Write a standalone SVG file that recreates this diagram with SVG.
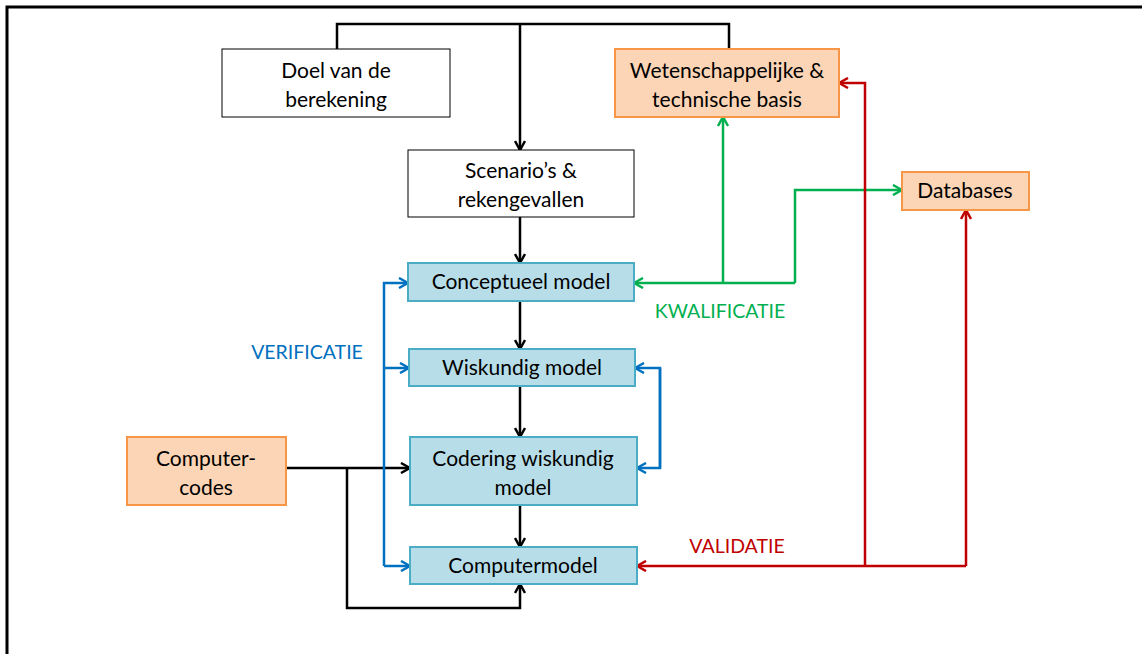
<svg xmlns="http://www.w3.org/2000/svg" width="1142" height="654" viewBox="0 0 1142 654">
<style>
.white{fill:#ffffff;stroke:#000000;stroke-width:1}
.orange{fill:#FBD5B5;stroke:#F79646;stroke-width:2}
.blue{fill:#B7DEE8;stroke:#4BACC6;stroke-width:2}
text{font-family:Lato,"Liberation Sans",sans-serif;font-size:21px;fill:#000;text-anchor:middle}
.lbl{font-size:19.5px}
.c{fill:none;stroke-width:2.5;stroke-linejoin:miter}
.k{stroke:#000}
.b{stroke:#0070C0}
.g{stroke:#00B050}
.r{stroke:#C00000}
</style>
<defs>
<marker id="ak" viewBox="0 0 12 12" refX="11" refY="6" markerWidth="12" markerHeight="12" markerUnits="userSpaceOnUse" orient="auto"><path d="M2,1 L11,6 L2,11" fill="none" stroke="#000" stroke-width="2.5"/></marker>
<marker id="ab" viewBox="0 0 12 12" refX="11" refY="6" markerWidth="12" markerHeight="12" markerUnits="userSpaceOnUse" orient="auto"><path d="M2,1 L11,6 L2,11" fill="none" stroke="#0070C0" stroke-width="2.5"/></marker>
<marker id="ag" viewBox="0 0 12 12" refX="11" refY="6" markerWidth="12" markerHeight="12" markerUnits="userSpaceOnUse" orient="auto"><path d="M2,1 L11,6 L2,11" fill="none" stroke="#00B050" stroke-width="2.5"/></marker>
<marker id="ar" viewBox="0 0 12 12" refX="11" refY="6" markerWidth="12" markerHeight="12" markerUnits="userSpaceOnUse" orient="auto"><path d="M2,1 L11,6 L2,11" fill="none" stroke="#C00000" stroke-width="2.5"/></marker>
</defs>
<rect width="1142" height="654" fill="#ffffff"/>
<path d="M7,654 V7 H1142" fill="none" stroke="#000" stroke-width="3"/>

<g id="connectors">
<path class="c k" d="M337,49 V24 H729 V49"/>
<path class="c k" d="M520,24 V150" marker-end="url(#ak)"/>
<path class="c k" d="M520,217 V263" marker-end="url(#ak)"/>
<path class="c k" d="M520,301 V349" marker-end="url(#ak)"/>
<path class="c k" d="M520,386 V437" marker-end="url(#ak)"/>
<path class="c k" d="M520,505 V547" marker-end="url(#ak)"/>
<path class="c k" d="M286,468 H410" marker-end="url(#ak)"/>
<path class="c k" d="M347,468 V608 H520 V584" marker-end="url(#ak)"/>
<path class="c b" d="M384,566 V283 H408" marker-end="url(#ab)"/>
<path class="c b" d="M384,368 H409" marker-end="url(#ab)"/>
<path class="c b" d="M384,566 H410" marker-end="url(#ab)"/>
<path class="c b" d="M660,468 V368 H635" marker-end="url(#ab)"/>
<path class="c b" d="M660,368 V468 H637" marker-end="url(#ab)"/>
<path class="c g" d="M795,283 H634" marker-end="url(#ag)"/>
<path class="c g" d="M723,283 V117" marker-end="url(#ag)"/>
<path class="c g" d="M795,283 V190 H902" marker-end="url(#ag)"/>
<path class="c r" d="M966,566 H637" marker-end="url(#ar)"/>
<path class="c r" d="M966,566 V210" marker-end="url(#ar)"/>
<path class="c r" d="M865,566 V83 H839" marker-end="url(#ar)"/>
<text class="lbl" x="307" y="359" style="fill:#0070C0">VERIFICATIE</text>
<text class="lbl" x="720" y="318" style="fill:#00B050">KWALIFICATIE</text>
<text class="lbl" x="737" y="553" style="fill:#C00000">VALIDATIE</text>
</g>

<g id="doel"><rect class="white" x="222" y="49" width="228" height="68"/><text x="336" y="78">Doel van de</text><text x="336" y="107">berekening</text></g>
<g id="wetenschap"><rect class="orange" x="615" y="49" width="224" height="68"/><text x="727" y="78">Wetenschappelijke &amp;</text><text x="727" y="107">technische basis</text></g>
<g id="scenario"><rect class="white" x="408" y="150" width="226" height="67"/><text x="521" y="178">Scenario’s &amp;</text><text x="521" y="207">rekengevallen</text></g>
<g id="databases"><rect class="orange" x="902" y="172" width="127" height="38"/><text x="965" y="198">Databases</text></g>
<g id="conceptueel"><rect class="blue" x="408" y="263" width="226" height="38"/><text x="521" y="289">Conceptueel model</text></g>
<g id="wiskundig"><rect class="blue" x="409" y="349" width="226" height="37"/><text x="522" y="375">Wiskundig model</text></g>
<g id="codering"><rect class="blue" x="410" y="437" width="227" height="68"/><text x="523" y="466">Codering wiskundig</text><text x="523" y="495">model</text></g>
<g id="computercodes"><rect class="orange" x="127" y="437" width="159" height="68"/><text x="206" y="466">Computer-</text><text x="206" y="495">codes</text></g>
<g id="computermodel"><rect class="blue" x="410" y="547" width="227" height="37"/><text x="523" y="573">Computermodel</text></g>
</svg>
